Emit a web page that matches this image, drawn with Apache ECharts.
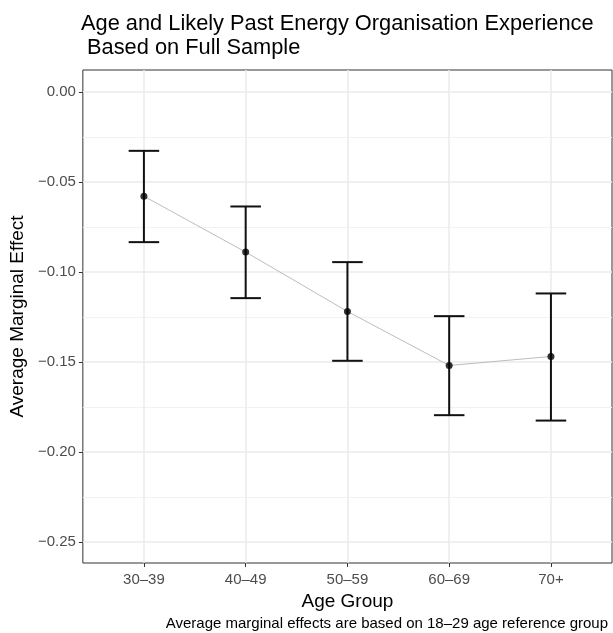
<!DOCTYPE html>
<html>
<head>
<meta charset="utf-8">
<script src="https://cdn.jsdelivr.net/npm/echarts@6/dist/echarts.min.js"></script>
<style>
  html, body { margin: 0; padding: 0; background: #ffffff; }
  #chart { width: 613px; height: 633px; }
</style>
</head>
<body>
<div id="chart"></div>
<script>
// ---- data ----
var categories = ['30–39', '40–49', '50–59', '60–69', '70+'];
var estimates  = [-0.058, -0.089, -0.122, -0.152, -0.147];
var lowerCI    = [-0.0835, -0.1146, -0.1494, -0.1796, -0.1826];
var upperCI    = [-0.0328, -0.0637, -0.0946, -0.1246, -0.1120];
var yMajorTicks = [0, -0.05, -0.10, -0.15, -0.20, -0.25];
var yMinorTicks = [-0.025, -0.075, -0.125, -0.175, -0.225];
var xPositions  = [1, 2, 3, 4, 5];

var FONT = 'Liberation Sans, Arial, Helvetica, sans-serif';

var pointData = categories.map(function (c, i) { return [xPositions[i], estimates[i]]; });
var errData = categories.map(function (c, i) { return [xPositions[i], lowerCI[i], upperCI[i]]; });

var chart = echarts.init(document.getElementById('chart'), null, { renderer: 'canvas' });

chart.setOption({
  backgroundColor: '#ffffff',
  animation: false,
  title: {
    text: 'Age and Likely Past Energy Organisation Experience\n Based on Full Sample',
    left: 81,
    top: 12,
    padding: 0,
    textStyle: {
      fontFamily: FONT,
      fontSize: 21.8,
      fontWeight: 'normal',
      color: '#000000',
      lineHeight: 24
    }
  },
  grid: {
    left: 81, right: 1, top: 70, bottom: 70,
    show: true,
    borderColor: '#333333',
    borderWidth: 1,
    backgroundColor: 'transparent',
    containLabel: false
  },
  xAxis: {
    type: 'value',
    min: 0.4,
    max: 5.6,
    position: 'bottom',
    name: 'Age Group',
    nameLocation: 'middle',
    nameGap: 28,
    nameTextStyle: { fontFamily: FONT, fontSize: 19, color: '#000000' },
    axisLine: { show: false, onZero: false },
    axisTick: {
      show: true, length: 4, customValues: xPositions,
      lineStyle: { color: '#333333', width: 1 }
    },
    axisLabel: {
      show: true, margin: 9, customValues: xPositions,
      fontFamily: FONT, fontSize: 15, color: '#4d4d4d',
      formatter: function (v) { return categories[Math.round(v) - 1]; }
    },
    splitLine: { show: true, lineStyle: { color: '#ebebeb', width: 1.5 } }
  },
  yAxis: [{
    type: 'value',
    min: -0.2617,
    max: 0.0121,
    position: 'left',
    name: 'Average Marginal Effect',
    nameLocation: 'middle',
    nameGap: 54,
    nameRotate: 90,
    nameTextStyle: { fontFamily: FONT, fontSize: 19, color: '#000000' },
    axisLine: { show: false, onZero: false },
    axisTick: {
      show: true, length: 4, customValues: yMajorTicks,
      lineStyle: { color: '#333333', width: 1 }
    },
    axisLabel: {
      show: true, margin: 7, customValues: yMajorTicks,
      fontFamily: FONT, fontSize: 15, color: '#4d4d4d',
      formatter: function (v) { return v.toFixed(2).replace('-', '\u2212'); }
    },
    splitLine: { show: true, lineStyle: { color: '#ebebeb', width: 1.5 } }
  }, {
    type: 'value',
    min: -0.2617,
    max: 0.0121,
    position: 'left',
    axisLine: { show: false, onZero: false },
    axisTick: { show: false, customValues: yMinorTicks },
    axisLabel: { show: false, customValues: yMinorTicks },
    splitLine: { show: true, lineStyle: { color: '#f2f2f2', width: 1.2 } }
  }],
  graphic: [{
    type: 'text',
    right: 5,
    top: 616,
    style: {
      text: 'Average marginal effects are based on 18–29 age reference group',
      font: '15px ' + FONT,
      fill: '#000000'
    }
  }],
  series: [{
    type: 'line',
    data: pointData,
    yAxisIndex: 0,
    symbol: 'none',
    lineStyle: { color: '#bdbdbd', width: 1 },
    z: 1
  }, {
    type: 'custom',
    yAxisIndex: 0,
    data: errData,
    encode: { x: 0, y: [1, 2] },
    renderItem: function (params, api) {
      var x = api.value(0);
      var lo = api.coord([x, api.value(1)]);
      var hi = api.coord([x, api.value(2)]);
      var half = api.size([0.3, 0])[0] / 2;
      var style = { stroke: '#111111', lineWidth: 2 };
      return {
        type: 'group',
        children: [
          { type: 'line', shape: { x1: lo[0], y1: lo[1], x2: hi[0], y2: hi[1] }, style: style },
          { type: 'line', shape: { x1: hi[0] - half, y1: hi[1], x2: hi[0] + half, y2: hi[1] }, style: style },
          { type: 'line', shape: { x1: lo[0] - half, y1: lo[1], x2: lo[0] + half, y2: lo[1] }, style: style }
        ]
      };
    },
    z: 2
  }, {
    type: 'scatter',
    yAxisIndex: 0,
    data: pointData,
    symbol: 'circle',
    symbolSize: 7,
    itemStyle: { color: '#000000' },
    z: 3
  }]
});
</script>
</body>
</html>
